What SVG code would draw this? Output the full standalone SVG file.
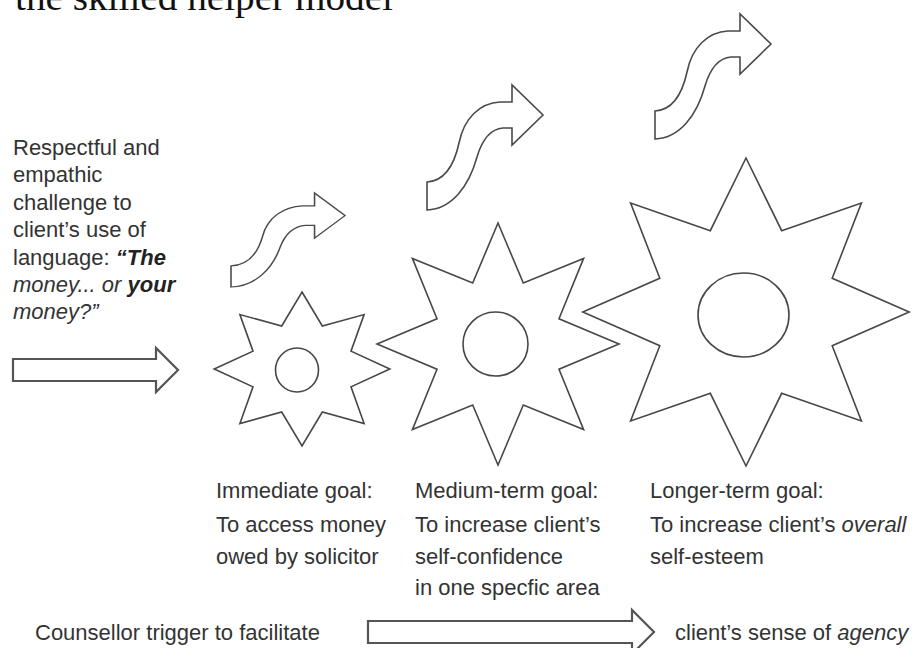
<svg xmlns="http://www.w3.org/2000/svg" xmlns:xlink="http://www.w3.org/1999/xlink" width="914" height="648" viewBox="0 0 914 648">
  <style>
    .bg { fill: #ffffff; }
    .title { font-family: "Liberation Serif", "Times New Roman", serif; font-size: 38px; fill: #111111; }
    .txt { font-family: "Liberation Sans", Arial, Helvetica, sans-serif; font-size: 22px; fill: #333333; }
    .it { font-style: italic; }
    .bi { font-style: italic; font-weight: bold; fill: #222222; }
    .star { fill: #ffffff; stroke: #474747; stroke-width: 1.6; stroke-linejoin: miter; }
    .hub { fill: #ffffff; stroke: #474747; stroke-width: 1.6; }
    .block { fill: #ffffff; stroke: #555555; stroke-width: 2.2; stroke-linejoin: miter; }
    .curve { fill: #ffffff; stroke: #4a4a4a; stroke-width: 1.6; stroke-linejoin: miter; }
  </style>
  <defs>
    <!-- S-shaped block arrow: tail at lower left, head pointing right -->
    <path id="s-arrow" d="M427,182 C444,181 454,166 459,143 C464,118 480,103 500,102 L512,102 L512,85 L543,115 L512,145 L512,128 L503,128 C490,129 482,140 477,157 C469,186 452,209 427,210 Z"/>
  </defs>

  <rect class="bg" x="0" y="0" width="914" height="648"/>

  <!-- heading, clipped by the top edge -->
  <g id="title">
    <text class="title" x="15" y="10" textLength="378" lengthAdjust="spacingAndGlyphs">the skilled helper model</text>
  </g>

  <!-- trigger description on the left -->
  <g id="trigger-text">
    <text class="txt" x="13" y="155">Respectful and</text>
    <text class="txt" x="13" y="182">empathic</text>
    <text class="txt" x="13" y="210">challenge to</text>
    <text class="txt" x="13" y="237">client’s use of</text>
    <text class="txt" x="13" y="265">language: <tspan class="bi">“The</tspan></text>
    <text class="txt" x="13" y="292"><tspan class="it">money... or </tspan><tspan class="bi">your</tspan></text>
    <text class="txt it" x="13" y="319">money?”</text>
  </g>

  <!-- goal stars -->
  <g id="star-immediate">
    <polygon class="star" points="302,292 322.3,326 364.1,314.6 351,351.2 389.8,369 351,386.8 364.1,423.5 322.3,412 302,446 281.7,412 239.9,423.5 253,386.8 214.2,369 253,351.2 239.9,314.6 281.7,326"/>
    <ellipse class="hub" cx="297" cy="370" rx="21.5" ry="22"/>
  </g>
  <g id="star-medium">
    <polygon class="star" points="498,223 523.3,283 583.6,258.4 559,318.7 619,344 559,369.3 583.6,429.6 523.3,405 498,465 472.7,405 412.4,429.6 437,369.3 377,344 437,318.7 412.4,258.4 472.7,283"/>
    <ellipse class="hub" cx="495.5" cy="344" rx="32.5" ry="32"/>
  </g>
  <g id="star-longer">
    <polygon class="star" points="746,158 781.7,230.7 861.4,203.1 832.2,278.3 909.2,312 832.2,345.7 861.4,420.9 781.7,393.3 746,466 710.3,393.3 630.6,420.9 659.8,345.7 582.8,312 659.8,278.3 630.6,203.1 710.3,230.7"/>
    <ellipse class="hub" cx="743.5" cy="315" rx="45.5" ry="42"/>
  </g>

  <!-- goal captions -->
  <g id="goal-immediate">
    <text class="txt" x="216" y="498">Immediate goal:</text>
    <text class="txt" x="216" y="532">To access money</text>
    <text class="txt" x="216" y="564">owed by solicitor</text>
  </g>
  <g id="goal-medium">
    <text class="txt" x="415" y="498">Medium-term goal:</text>
    <text class="txt" x="415" y="532">To increase client’s</text>
    <text class="txt" x="415" y="564">self-confidence</text>
    <text class="txt" x="415" y="595">in one specfic area</text>
  </g>
  <g id="goal-longer">
    <text class="txt" x="650" y="498">Longer-term goal:</text>
    <text class="txt" x="650" y="532">To increase client’s <tspan class="it">overall</tspan></text>
    <text class="txt" x="650" y="564">self-esteem</text>
  </g>

  <!-- bottom caption -->
  <g id="agency-text">
    <text class="txt" x="35" y="640">Counsellor trigger to facilitate</text>
    <text class="txt" x="675" y="640">client’s sense of <tspan class="it">agency</tspan></text>
  </g>

  <!-- arrows -->
  <g id="connectors">
    <path class="block" d="M13,359 L156,359 L156,348 L178,370 L156,392 L156,381 L13,381 Z"/>
    <path class="block" d="M368,621 L632,621 L632,610 L654,632 L632,654 L632,643 L368,643 Z"/>
    <use xlink:href="#s-arrow" class="curve" vector-effect="non-scaling-stroke" transform="translate(231,193) scale(0.983,0.752) translate(-427,-85)"/>
    <use xlink:href="#s-arrow" class="curve"/>
    <use xlink:href="#s-arrow" class="curve" transform="translate(228,-71)"/>
  </g>
</svg>
